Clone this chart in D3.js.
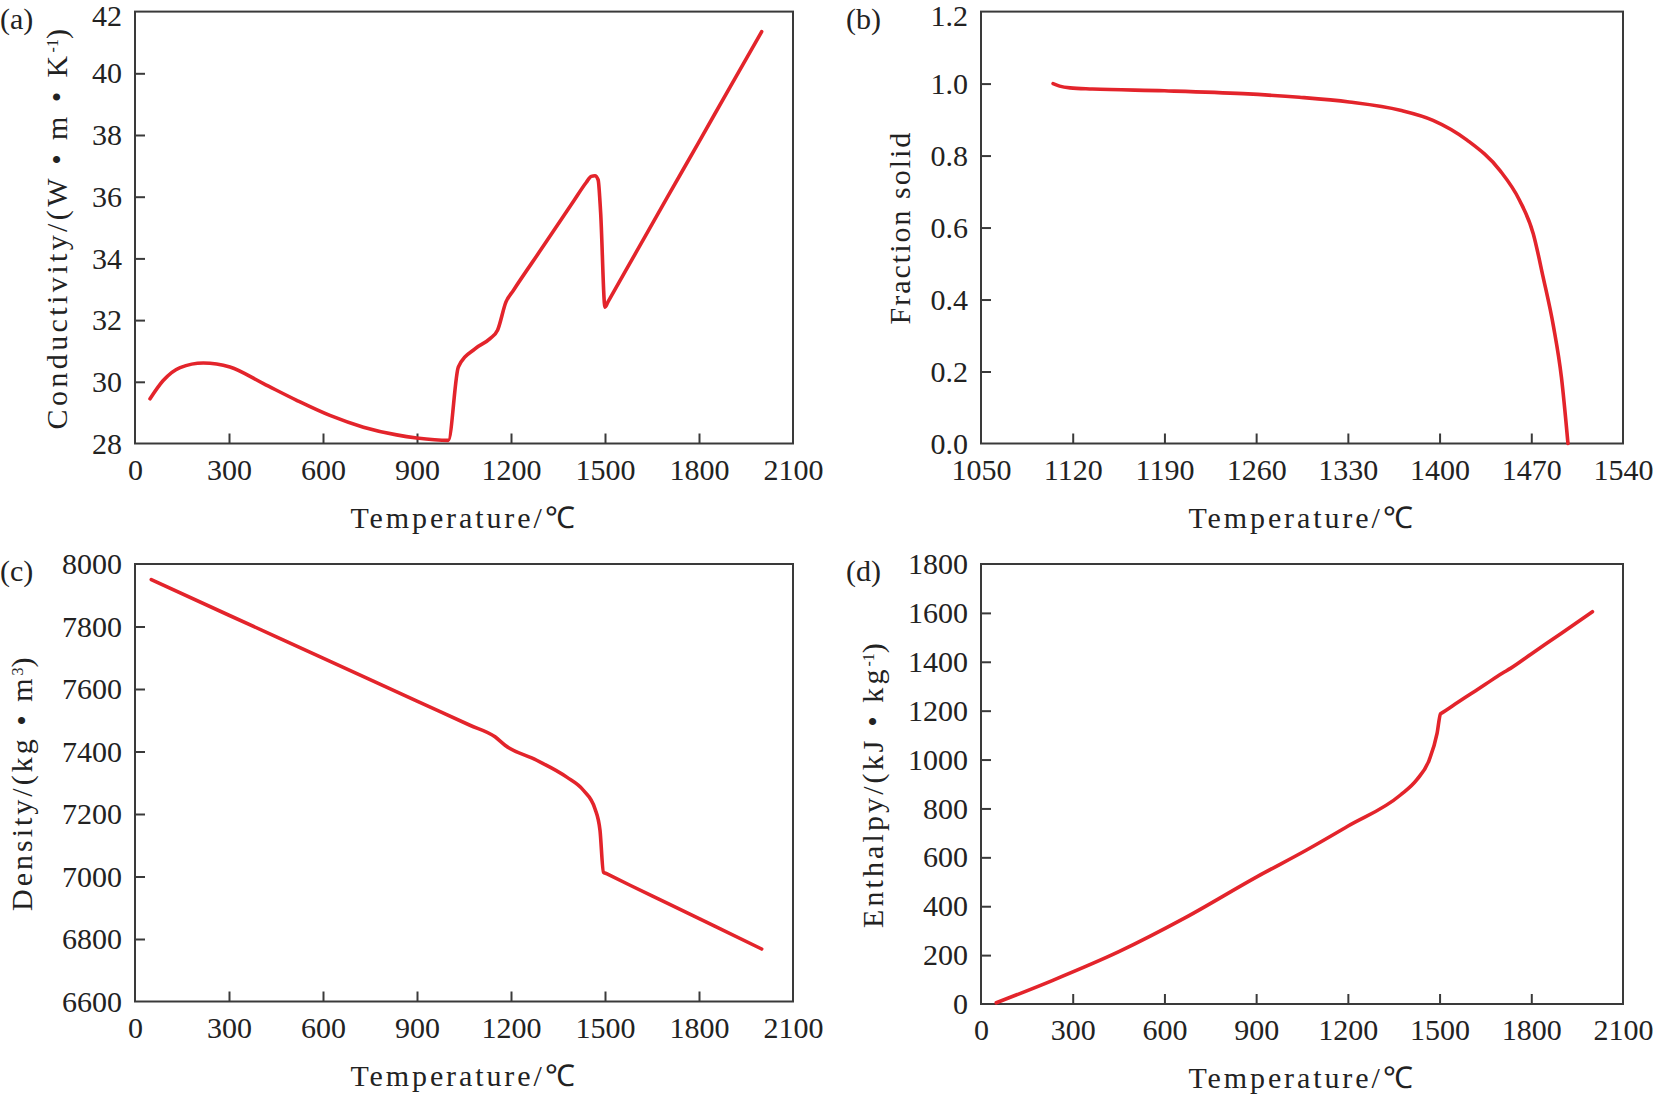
<!DOCTYPE html>
<html>
<head>
<meta charset="utf-8">
<script src="https://cdn.jsdelivr.net/npm/d3@7"></script>
<style>
  body { margin: 0; background: #fff; }
  text { font-family: "Liberation Serif", "Times New Roman", Times, serif; fill: #222; }
</style>
</head>
<body>
<script>
// (a) thermal conductivity
const condTemp = [48, 90, 144, 218, 303, 410, 516, 622, 729, 835, 899, 1000, 1032, 1085, 1133, 1157, 1184, 1208, 1300, 1400, 1440, 1456, 1468, 1478, 1486, 1500, 1510, 1600, 1700, 1800, 1900, 2000];
const condValue = [29.45, 30.04, 30.46, 30.61, 30.48, 29.94, 29.4, 28.91, 28.53, 28.28, 28.18, 28.1, 30.48, 31.07, 31.4, 31.67, 32.59, 32.97, 34.35, 35.86, 36.46, 36.66, 36.68, 36.55, 35.5, 32.42, 32.6, 34.21, 36.0, 37.78, 39.57, 41.35];

// (b) fraction solid
const fsTemp = [1105, 1110, 1118, 1135, 1190, 1250, 1293, 1331, 1370, 1395, 1421, 1446, 1461, 1471.5, 1479, 1487, 1493, 1498];
const fsValue = [1.0, 0.993, 0.988, 0.985, 0.98, 0.972, 0.962, 0.949, 0.926, 0.898, 0.843, 0.759, 0.676, 0.583, 0.463, 0.324, 0.184, 0.0];

// (c) density
const densTemp = [52, 300, 600, 900, 1069, 1149, 1181, 1282, 1378, 1431, 1468, 1484, 1495, 1505, 1580, 1700, 1850, 2000];
const densValue = [7950, 7836, 7699, 7561, 7484, 7447, 7420, 7372, 7318, 7276, 7217, 7148, 7014, 7009, 6972, 6914, 6841, 6768];

// (d) enthalpy
const enthTemp = [50, 237, 451, 664, 905, 1065, 1198, 1372, 1425, 1466, 1492, 1503, 1508, 1550, 1600, 1650, 1705, 1732, 1800, 1900, 2000];
const enthValue = [5, 98, 214, 350, 522, 630, 726, 855, 917, 998, 1108, 1187, 1191, 1226, 1267, 1308, 1353, 1373, 1432, 1518, 1605];

const xTicksWide = [0, 300, 600, 900, 1200, 1500, 1800, 2100];
const xTicksFs = [1050, 1120, 1190, 1260, 1330, 1400, 1470, 1540];
const yTicksCond = [28, 30, 32, 34, 36, 38, 40, 42];
const yTicksFs = [0, 0.2, 0.4, 0.6, 0.8, 1.0, 1.2];
const yTicksDens = [6600, 6800, 7000, 7200, 7400, 7600, 7800, 8000];
const yTicksEnth = [0, 200, 400, 600, 800, 1000, 1200, 1400, 1600, 1800];

const xTitle = 'Temperature/℃';

const width = 1658, height = 1099;
const red = '#e3242b';
const frameColor = '#3a3a3a';
const serif = '"Liberation Serif", "Times New Roman", Times, serif';

const svg = d3.select('body').append('svg')
    .attr('width', width)
    .attr('height', height);

const panels = [
    { tag: '(a)', box: [135, 11.6, 793, 443.5], temp: condTemp, value: condValue,
      xTicks: xTicksWide, yTicks: yTicksCond, yFmt: d3.format('d'), yTitleX: 67, ySpacing: 3.4,
      yTitle: [['Conductivity/(W • m • K', false], ['-1', true], [')', false]] },
    { tag: '(b)', box: [981, 11.6, 1623, 443.5], temp: fsTemp, value: fsValue,
      xTicks: xTicksFs, yTicks: yTicksFs, yFmt: d3.format('.1f'), yTitleX: 910, ySpacing: 2.0,
      yTitle: [['Fraction solid', false]] },
    { tag: '(c)', box: [135, 564, 793, 1001.5], temp: densTemp, value: densValue,
      xTicks: xTicksWide, yTicks: yTicksDens, yFmt: d3.format('d'), yTitleX: 32, ySpacing: 3.0,
      yTitle: [['Density/(kg • m', false], ['3', true], [')', false]] },
    { tag: '(d)', box: [981, 564, 1623, 1004], temp: enthTemp, value: enthValue,
      xTicks: xTicksWide, yTicks: yTicksEnth, yFmt: d3.format('d'), yTitleX: 883, ySpacing: 3.1,
      yTitle: [['Enthalpy/(kJ • kg', false], ['-1', true], [')', false]] }
];

panels.forEach(p => {
    const [x0, y0, x1, y1] = p.box;
    const xScale = d3.scaleLinear()
        .domain(d3.extent(p.xTicks))
        .range([x0, x1]);
    const yScale = d3.scaleLinear()
        .domain(d3.extent(p.yTicks))
        .range([y1, y0]);

    const xAxis = d3.axisBottom(xScale)
        .tickValues(p.xTicks)
        .tickSizeInner(-10)
        .tickSizeOuter(0)
        .tickPadding(15)
        .tickFormat(d3.format('d'));
    const yAxis = d3.axisLeft(yScale)
        .tickValues(p.yTicks)
        .tickSizeInner(-10)
        .tickSizeOuter(0)
        .tickPadding(13)
        .tickFormat(p.yFmt);

    const gx = svg.append('g')
        .attr('transform', `translate(0, ${y1})`)
        .call(xAxis);
    const gy = svg.append('g')
        .attr('transform', `translate(${x0}, 0)`)
        .call(yAxis);
    [gx, gy].forEach(g => {
        g.attr('font-family', null).attr('font-size', null);
        g.select('.domain').remove();
        g.selectAll('.tick line').attr('stroke', frameColor).attr('stroke-width', 2);
        g.selectAll('.tick text')
            .style('font-family', serif)
            .style('font-size', '30px')
            .attr('fill', '#222');
    });
    // end ticks sit on the frame
    const yTop = p.yTicks[p.yTicks.length - 1];
    gx.selectAll('.tick line').filter(d => d === p.xTicks[0] || d === p.xTicks[p.xTicks.length - 1]).remove();
    gy.selectAll('.tick line').filter(d => d === p.yTicks[0] || d === yTop).remove();
    // keep the topmost label inside the page
    if (y0 < 20) gy.selectAll('.tick text').filter(d => d === yTop).attr('dy', '0.45em');

    svg.append('rect')
        .attr('x', x0).attr('y', y0)
        .attr('width', x1 - x0).attr('height', y1 - y0)
        .attr('fill', 'none')
        .attr('stroke', frameColor)
        .attr('stroke-width', 2);

    const line = d3.line()
        .x((d, i) => xScale(p.temp[i]))
        .y(d => yScale(d))
        .curve(d3.curveMonotoneX);
    svg.append('path')
        .attr('d', line(p.value))
        .attr('fill', 'none')
        .attr('stroke', red)
        .attr('stroke-width', 3.6)
        .attr('stroke-linejoin', 'round')
        .attr('stroke-linecap', 'round');

    // x title
    svg.append('text')
        .attr('x', (x0 + x1) / 2)
        .attr('y', y1 + 84)
        .attr('text-anchor', 'middle')
        .style('font-family', serif)
        .style('font-size', '30px')
        .style('letter-spacing', '2.9px')
        .text(xTitle);

    // y title, rotated
    const yt = svg.append('text')
        .attr('transform', `translate(${p.yTitleX}, ${(y0 + y1) / 2}) rotate(-90)`)
        .attr('text-anchor', 'middle')
        .style('font-family', serif)
        .style('font-size', '30px')
        .style('letter-spacing', p.ySpacing + 'px');
    p.yTitle.forEach(([s, sup]) => {
        const t = yt.append('tspan').text(s);
        if (sup) t.attr('baseline-shift', '55%').style('font-size', '16px').style('letter-spacing', '0px');
    });

    // panel tag
    svg.append('text')
        .attr('x', x0 - 135)
        .attr('y', y0 + 17)
        .style('font-family', serif)
        .style('font-size', '30px')
        .text(p.tag);
});
</script>
</body>
</html>
